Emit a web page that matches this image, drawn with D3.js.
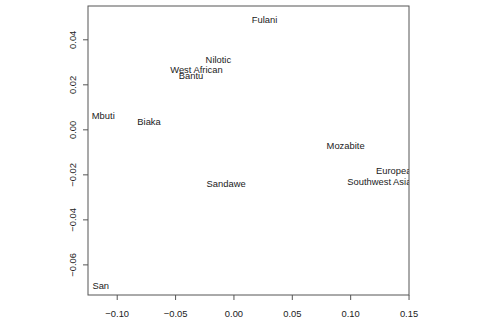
<!DOCTYPE html>
<html>
<head>
<meta charset="utf-8">
<script src="https://cdn.jsdelivr.net/npm/d3@7"></script>
<style>
  body { margin: 0; background: #fff; }
  svg { display: block; font-family: "Liberation Sans", Arial, Helvetica, sans-serif; }
</style>
</head>
<body>
<svg id="chart" width="480" height="320"></svg>
<script>
// population labels and their coordinates (PC1, PC2)
const populations = ["Fulani", "Nilotic", "West African", "Bantu", "Mbuti", "Biaka",
    "Mozabite", "European", "Southwest Asian", "Sandawe", "San"];
const pc1 = [0.0266, -0.0129, -0.0317, -0.0364, -0.1115, -0.0723, 0.0961, 0.1395, 0.1272, -0.0063, -0.1137];
const pc2 = [0.0489, 0.0311, 0.0264, 0.0237, 0.0059, 0.0034, -0.0073, -0.0184, -0.0233, -0.0240, -0.0695];

const xTicks = [-0.10, -0.05, 0.00, 0.05, 0.10, 0.15];
const yTicks = [-0.06, -0.04, -0.02, 0.00, 0.02, 0.04];

const box = { left: 88, right: 409, top: 6, bottom: 295 };
const fontSize = "9.4px";

const svg = d3.select("#chart");

const x = d3.scaleLinear()
    .domain([-0.1246, 0.1504])
    .range([box.left, box.right]);

const y = d3.scaleLinear()
    .domain([-0.0736, 0.0548])
    .range([box.bottom, box.top]);

const data = populations.map((p, i) => ({ name: p, x: pc1[i], y: pc2[i] }));

// x axis
const xAxis = svg.append("g")
    .attr("transform", `translate(0, ${box.bottom})`)
    .call(d3.axisBottom(x).tickValues(xTicks).tickFormat(d3.format(".2f")).tickSize(5).tickPadding(10));
xAxis.select(".domain").remove();
xAxis.selectAll("line").attr("stroke", "#555");
xAxis.selectAll("text").attr("font-size", fontSize).attr("fill", "#222")
    .attr("font-family", null);

// y axis, labels turned like R
const yAxis = svg.append("g")
    .attr("transform", `translate(${box.left}, 0)`)
    .call(d3.axisLeft(y).tickValues(yTicks).tickFormat(d3.format(".2f")).tickSize(5));
yAxis.select(".domain").remove();
yAxis.selectAll("line").attr("stroke", "#555");
yAxis.selectAll("text")
    .attr("font-size", fontSize)
    .attr("fill", "#222")
    .attr("font-family", null)
    .attr("transform", "rotate(-90)")
    .attr("x", 0)
    .attr("y", -15)
    .attr("dy", "0.35em")
    .attr("text-anchor", "middle");

// clip labels to the plot region
svg.append("clipPath")
    .attr("id", "plotclip")
    .append("rect")
    .attr("x", box.left)
    .attr("y", box.top)
    .attr("width", box.right - box.left)
    .attr("height", box.bottom - box.top);

svg.append("g")
    .attr("clip-path", "url(#plotclip)")
    .selectAll("text")
    .data(data)
    .enter().append("text")
    .attr("x", d => x(d.x))
    .attr("y", d => y(d.y))
    .attr("dy", "0.35em")
    .attr("text-anchor", "middle")
    .attr("font-size", fontSize)
    .attr("fill", "#222")
    .text(d => d.name);

// plot box
svg.append("rect")
    .attr("x", box.left)
    .attr("y", box.top)
    .attr("width", box.right - box.left)
    .attr("height", box.bottom - box.top)
    .attr("fill", "none")
    .attr("stroke", "#555")
    .attr("stroke-width", 1);
</script>
</body>
</html>
